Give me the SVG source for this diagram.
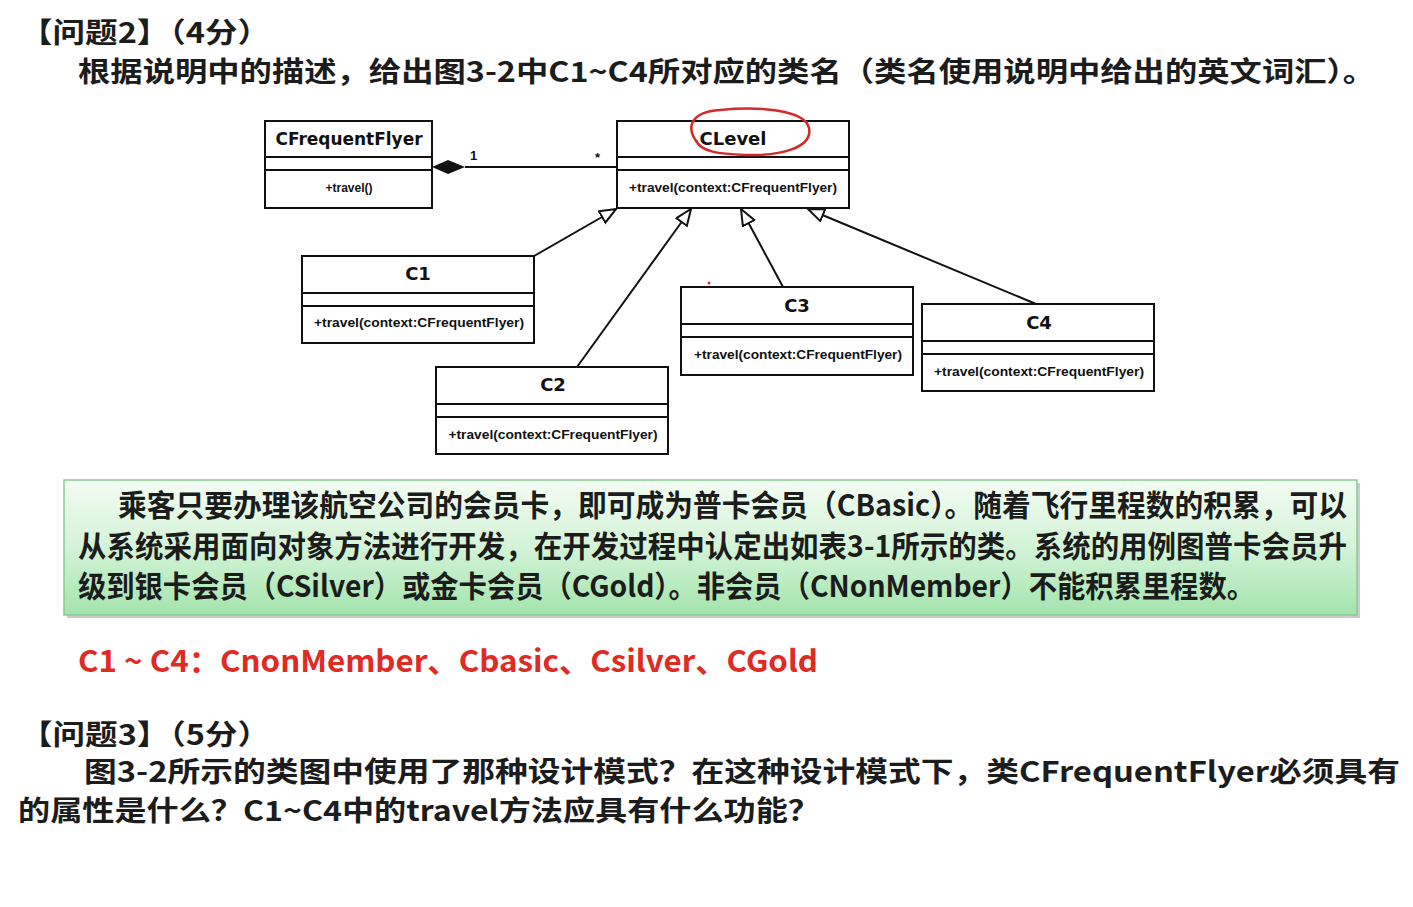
<svg xmlns="http://www.w3.org/2000/svg" width="1413" height="907" viewBox="0 0 1413 907">
<defs>
<style>
.t{font-family:"Noto Sans CJK SC","Liberation Sans",sans-serif;font-weight:700;fill:#1c1c1c;font-size:30px}
.s{font-size:28px}
.r{fill:#e02a24}
.box{fill:#fff;stroke:#111;stroke-width:2}
.sep{stroke:#111;stroke-width:2}
.cn{font-family:"DejaVu Sans","Liberation Sans",sans-serif;font-weight:700;font-size:18px;fill:#111;text-anchor:middle}
.mt{font-family:"Liberation Sans",sans-serif;font-weight:700;font-size:12px;fill:#111;text-anchor:middle}
.ln{stroke:#111;stroke-width:2;fill:none}
</style>
<linearGradient id="gg" x1="0" y1="0" x2="0" y2="1">
<stop offset="0" stop-color="#f3fcf3"/>
<stop offset="0.5" stop-color="#d3f3d6"/>
<stop offset="1" stop-color="#a3e4ad"/>
</linearGradient>
<marker id="tri" markerUnits="userSpaceOnUse" markerWidth="20" markerHeight="16" refX="17" refY="7.5" orient="auto">
<path d="M1,1 L17,7.5 L1,14 z" fill="#fff" stroke="#111" stroke-width="2"/>
</marker>
</defs>
<rect width="1413" height="907" fill="#fff"/>

<text class="t s" x="20" y="43" textLength="250" lengthAdjust="spacingAndGlyphs">【问题2】（4分）</text>
<text class="t s" x="78" y="82" textLength="1297" lengthAdjust="spacingAndGlyphs">根据说明中的描述，给出图3-2中C1~C4所对应的类名（类名使用说明中给出的英文词汇）。</text>

<g id="connectors">
<polygon points="432,167 448,160 465,167 448,174" fill="#111"/>
<line class="ln" x1="465" y1="167" x2="617" y2="167"/>
<text x="470" y="160" font-family="Liberation Sans,sans-serif" font-weight="700" font-size="13" fill="#111">1</text>
<text x="595" y="162" font-family="Liberation Sans,sans-serif" font-weight="700" font-size="13" fill="#111">*</text>
<line class="ln" x1="534" y1="256" x2="616" y2="209" marker-end="url(#tri)"/>
<line class="ln" x1="577" y1="367" x2="691" y2="209" marker-end="url(#tri)"/>
<line class="ln" x1="783" y1="287" x2="741" y2="209" marker-end="url(#tri)"/>
<line class="ln" x1="1036" y1="304" x2="808" y2="209" marker-end="url(#tri)"/>
</g>

<g id="CFrequentFlyer">
<rect class="box" x="265" y="121" width="167" height="87"/>
<line class="sep" x1="265" y1="157" x2="432" y2="157"/>
<line class="sep" x1="265" y1="170" x2="432" y2="170"/>
<text class="cn" x="349" y="145" textLength="147" lengthAdjust="spacingAndGlyphs">CFrequentFlyer</text>
<text class="mt" x="349" y="192">+travel()</text>
</g>

<g id="CLevel">
<rect class="box" x="617" y="121" width="232" height="87"/>
<line class="sep" x1="617" y1="157" x2="849" y2="157"/>
<line class="sep" x1="617" y1="170" x2="849" y2="170"/>
<text class="cn" x="733" y="145">CLevel</text>
<text class="mt" x="733" y="192" textLength="208" lengthAdjust="spacingAndGlyphs">+travel(context:CFrequentFlyer)</text>
</g>

<g id="C1">
<rect class="box" x="302" y="256" width="232" height="87"/>
<line class="sep" x1="302" y1="293" x2="534" y2="293"/>
<line class="sep" x1="302" y1="306" x2="534" y2="306"/>
<text class="cn" x="418" y="280">C1</text>
<text class="mt" x="419" y="327" textLength="210" lengthAdjust="spacingAndGlyphs">+travel(context:CFrequentFlyer)</text>
</g>

<g id="C2">
<rect class="box" x="436" y="367" width="232" height="87"/>
<line class="sep" x1="436" y1="404" x2="668" y2="404"/>
<line class="sep" x1="436" y1="417" x2="668" y2="417"/>
<text class="cn" x="553" y="391">C2</text>
<text class="mt" x="553" y="439" textLength="209" lengthAdjust="spacingAndGlyphs">+travel(context:CFrequentFlyer)</text>
</g>

<g id="C3">
<rect class="box" x="681" y="287" width="232" height="88"/>
<line class="sep" x1="681" y1="324" x2="913" y2="324"/>
<line class="sep" x1="681" y1="337" x2="913" y2="337"/>
<text class="cn" x="797" y="312">C3</text>
<text class="mt" x="798" y="359" textLength="208" lengthAdjust="spacingAndGlyphs">+travel(context:CFrequentFlyer)</text>
</g>

<g id="C4">
<rect class="box" x="922" y="304" width="232" height="87"/>
<line class="sep" x1="922" y1="341" x2="1154" y2="341"/>
<line class="sep" x1="922" y1="354" x2="1154" y2="354"/>
<text class="cn" x="1039" y="329">C4</text>
<text class="mt" x="1039" y="376" textLength="210" lengthAdjust="spacingAndGlyphs">+travel(context:CFrequentFlyer)</text>
</g>

<g id="annotation" fill="none" stroke="#d42a2a" stroke-width="2.5">
<path d="M700,146 C684,128 690,112 720,110 C760,106 805,110 809,128 C813,148 780,156 745,155 C720,154 700,152 696,140"/>
<circle cx="709" cy="283" r="1.5" fill="#d42a2a" stroke="none"/>
</g>

<g id="description">
<rect x="67" y="483" width="1293" height="135" fill="#9a9a9a" opacity="0.5"/>
<rect x="64" y="480" width="1293" height="135" fill="url(#gg)" stroke="#86cc92" stroke-width="1.5"/>
<text class="t" x="118" y="516" textLength="1229" lengthAdjust="spacingAndGlyphs">乘客只要办理该航空公司的会员卡，即可成为普卡会员（CBasic）。随着飞行里程数的积累，可以</text>
<text class="t" x="78" y="557" textLength="1269" lengthAdjust="spacingAndGlyphs">从系统采用面向对象方法进行开发，在开发过程中认定出如表3-1所示的类。系统的用例图普卡会员升</text>
<text class="t" x="78" y="597" textLength="1177" lengthAdjust="spacingAndGlyphs">级到银卡会员（CSilver）或金卡会员（CGold）。非会员（CNonMember）不能积累里程数。</text>
</g>

<text class="t r" x="78" y="672" textLength="740" lengthAdjust="spacingAndGlyphs">C1 ~ C4：CnonMember、Cbasic、Csilver、CGold</text>

<text class="t s" x="20" y="745" textLength="250" lengthAdjust="spacingAndGlyphs">【问题3】（5分）</text>
<text class="t s" x="84" y="782" textLength="1316" lengthAdjust="spacingAndGlyphs">图3-2所示的类图中使用了那种设计模式？在这种设计模式下，类CFrequentFlyer必须具有</text>
<text class="t s" x="18" y="821" textLength="802" lengthAdjust="spacingAndGlyphs">的属性是什么？C1~C4中的travel方法应具有什么功能？</text>
</svg>
